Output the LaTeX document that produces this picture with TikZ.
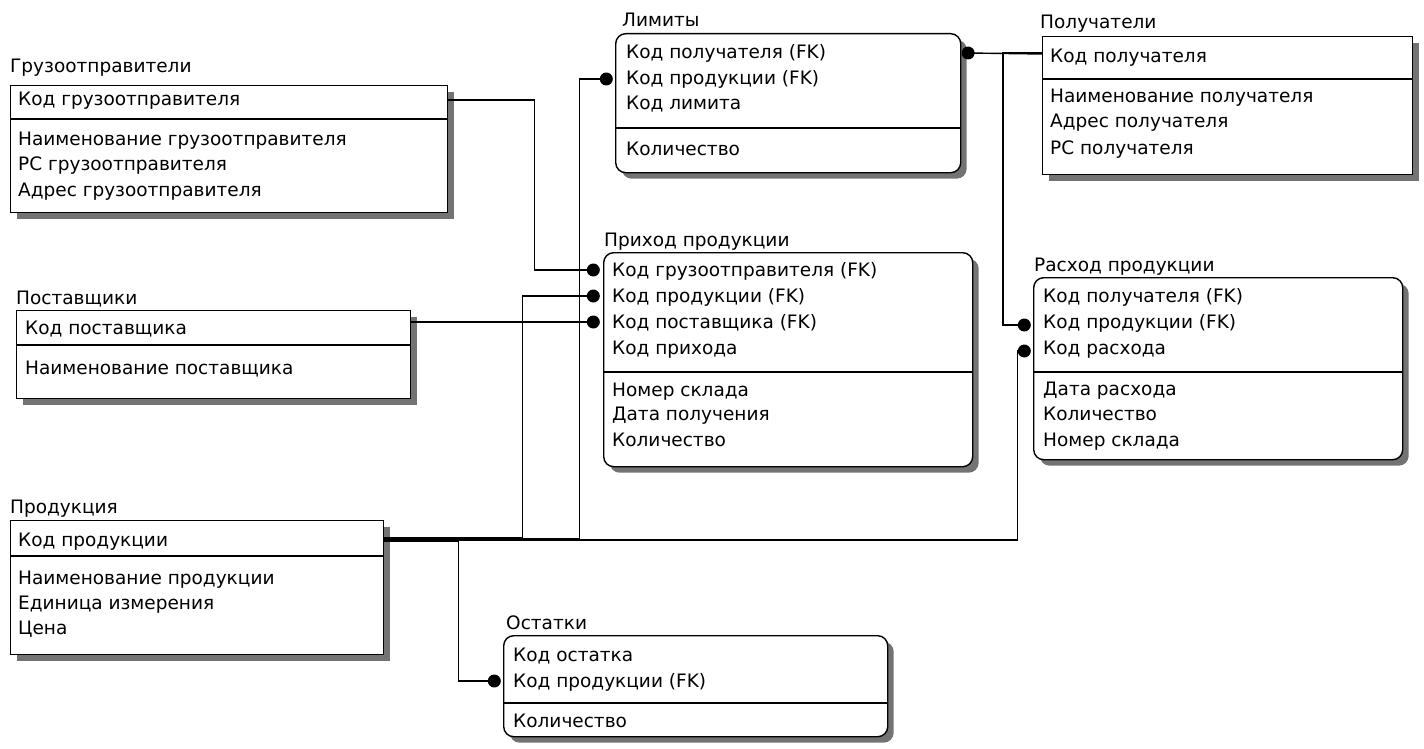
\documentclass[tikz,border=0pt]{standalone}
\usepackage{fontspec}
\setmainfont{DejaVu Sans}
\usetikzlibrary{shadows, calc}

\begin{document}
\begin{tikzpicture}[x=1pt, y=-1pt,
        every node/.style={font=\fontsize{18.5}{21}\selectfont},
        entity/.style={draw, line width=1.4pt, fill=white, anchor=north west, inner sep=0pt,
            drop shadow={shadow xshift=6pt, shadow yshift=-6pt, fill=black!55, opacity=1}},
        depentity/.style={entity, rounded corners=10pt},
        etitle/.style={anchor=base west, inner sep=0pt},
        field/.style={anchor=west, inner sep=0pt, text height=15pt, text depth=3pt},
        fkdot/.style={circle, fill=black, inner sep=0pt, minimum size=13pt},
        relline/.style={line width=1.4pt}]
        \useasboundingbox (0,0) rectangle (1424,749);

        \node[entity, minimum width=437pt, minimum height=127pt] (gruz) at (10,85) {};
        \node[etitle] at (10,73) {Грузоотправители};
        \draw[line width=1.4pt] (gruz.west |- 0,119) -- (gruz.east |- 0,119);
        \node[field] (gruz1) at (18,100) {Код грузоотправителя};
        \node[field] at (18,140) {Наименование грузоотправителя};
        \node[field] at (18,165) {РС грузоотправителя};
        \node[field] at (18,190) {Адрес грузоотправителя};

        \node[entity, minimum width=394pt, minimum height=88pt] (post) at (16,310) {};
        \node[etitle] at (16,304) {Поставщики};
        \draw[line width=1.4pt] (post.west |- 0,345) -- (post.east |- 0,345);
        \node[field] (post1) at (25,328) {Код поставщика};
        \node[field] at (25,368) {Наименование поставщика};

        \node[entity, minimum width=373pt, minimum height=134pt] (prod) at (10,520) {};
        \node[etitle] at (10,513) {Продукция};
        \draw[line width=1.4pt] (prod.west |- 0,556) -- (prod.east |- 0,556);
        \node[field] (prod1) at (18,540) {Код продукции};
        \node[field] at (18,578) {Наименование продукции};
        \node[field] at (18,603) {Единица измерения};
        \node[field] at (18,628) {Цена};

        \node[depentity, minimum width=345pt, minimum height=139pt] (limit) at (615,33) {};
        \node[etitle] at (622,27) {Лимиты};
        \draw[line width=1.4pt] (limit.west |- 0,128) -- (limit.east |- 0,128);
        \node[field] (limit1) at (626,53) {Код получателя (FK)};
        \node[field] (limit2) at (626,79) {Код продукции (FK)};
        \node[field] at (626,104) {Код лимита};
        \node[field] at (626,149) {Количество};

        \node[entity, minimum width=370pt, minimum height=138pt] (poluch) at (1042,36) {};
        \node[etitle] at (1040,29) {Получатели};
        \draw[line width=1.4pt] (poluch.west |- 0,79) -- (poluch.east |- 0,79);
        \node[field] (poluch1) at (1050,57) {Код получателя};
        \node[field] at (1050,97) {Наименование получателя};
        \node[field] at (1050,122) {Адрес получателя};
        \node[field] at (1050,148) {РС получателя};

        \node[depentity, minimum width=369pt, minimum height=214pt] (prihod) at (603,252) {};
        \node[etitle] at (604,246) {Приход продукции};
        \draw[line width=1.4pt] (prihod.west |- 0,372) -- (prihod.east |- 0,372);
        \node[field] (prihod1) at (612,270) {Код грузоотправителя (FK)};
        \node[field] (prihod2) at (612,296) {Код продукции (FK)};
        \node[field] (prihod3) at (612,322) {Код поставщика (FK)};
        \node[field] at (612,348) {Код прихода};
        \node[field] at (612,390) {Номер склада};
        \node[field] at (612,414) {Дата получения};
        \node[field] at (612,440) {Количество};

        \node[depentity, minimum width=369pt, minimum height=182pt] (rashod) at (1033,277) {};
        \node[etitle] at (1034,271) {Расход продукции};
        \draw[line width=1.4pt] (rashod.west |- 0,372) -- (rashod.east |- 0,372);
        \node[field] at (1043,296) {Код получателя (FK)};
        \node[field] (rashod2) at (1043,322) {Код продукции (FK)};
        \node[field] (rashod3) at (1043,348) {Код расхода};
        \node[field] at (1043,389) {Дата расхода};
        \node[field] at (1043,414) {Количество};
        \node[field] at (1043,440) {Номер склада};

        \node[depentity, minimum width=384pt, minimum height=101pt] (ostat) at (503,635) {};
        \node[etitle] at (506,629) {Остатки};
        \draw[line width=1.4pt] (ostat.west |- 0,703) -- (ostat.east |- 0,703);
        \node[field] at (513,655) {Код остатка};
        \node[field] (ostat2) at (513,681) {Код продукции (FK)};
        \node[field] at (513,721) {Количество};

        \node[fkdot, anchor=east, xshift=-3pt] (dpr1) at (prihod.west |- prihod1) {};
        \node[fkdot, anchor=east, xshift=-3pt] (dpr2) at (prihod.west |- prihod2) {};
        \node[fkdot, anchor=east, xshift=-3pt] (dpr3) at (prihod.west |- prihod3) {};
        \node[fkdot, anchor=east, xshift=-2pt] (dli2) at (limit.west |- limit2) {};
        \node[fkdot, anchor=west] (dli1) at (limit.east |- limit1) {};
        \node[fkdot, anchor=east, xshift=-2pt, yshift=-3pt] (dra2) at (rashod.west |- rashod2) {};
        \node[fkdot, anchor=east, xshift=-2pt, yshift=-3pt] (dra3) at (rashod.west |- rashod3) {};
        \node[fkdot, anchor=east, xshift=-2pt] (dos2) at (ostat.west |- ostat2) {};

        \draw[relline] (gruz.east |- gruz1) -- ++(86,0) |- (dpr1.center);
        \draw[relline] (post.east |- dpr3) -- (dpr3.center);
        \draw[relline] ($(prod.east |- prod1)+(0,-2)$) -- ++(138,0) |- (dpr2.center);
        \draw[relline] ($(prod.east |- prod1)+(0,-1)$) -- ++(195,0) |- (dli2.center);
        \draw[relline] (prod.east |- prod1) -- ++(633,0) |- (dra3.center);
        \draw[relline] ($(prod.east |- prod1)+(0,1)$) -- ++(74,0) |- (dos2.center);
        \draw[relline] ($(poluch.west |- dli1)+(0,1)$) -- (dli1.center);
        \draw[relline] (poluch.west |- dli1) -- ++(-39,0) |- (dra2.center);
    \end{tikzpicture}
\end{document}
